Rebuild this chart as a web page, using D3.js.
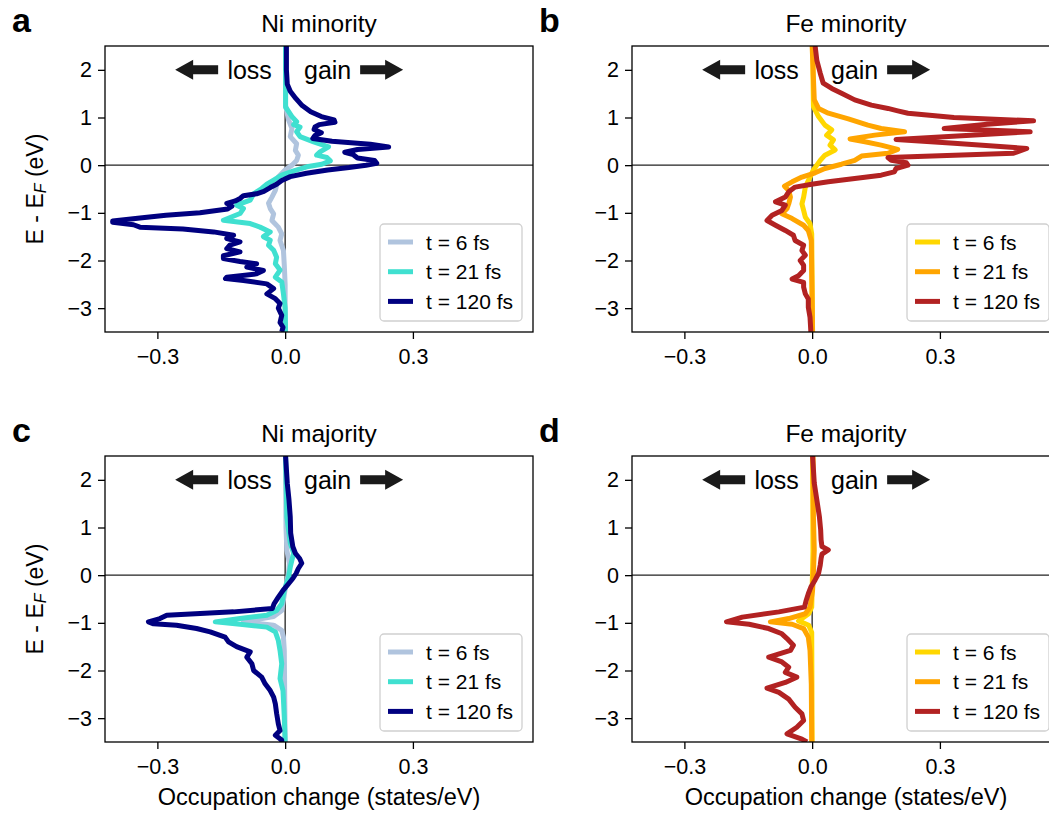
<!DOCTYPE html>
<html>
<head>
<meta charset="utf-8">
<script src="https://cdn.jsdelivr.net/npm/d3@7"></script>
<style>
  body { margin: 0; background: #fff; }
  svg text { font-family: "Liberation Sans", Arial, sans-serif; fill: #000; }
</style>
</head>
<body>
<div id="chart"></div>
<script>
// [energy (eV), occupation change (states/eV)]
const niMin6 = [[2.5,0.001],[1.25,0.001],[0.95,0.008],[0.77,0.016],[0.6,0.012],[0.45,0.027],[0.31,0.024],[0.21,0.031],[0.1,0.027],[0.0,0.016],[-0.1,0.0],[-0.25,-0.016],[-0.42,-0.02],[-0.53,-0.023],[-0.67,-0.031],[-0.8,-0.039],[-0.91,-0.035],[-1.02,-0.027],[-1.16,-0.031],[-1.3,-0.016],[-1.44,-0.008],[-1.58,-0.012],[-1.79,-0.004],[-2.1,-0.002],[-2.5,0.0],[-3.5,0.0]];
const niMin21 = [[2.5,0.001],[1.22,0.001],[1.02,0.016],[0.91,0.027],[0.85,0.02],[0.8,0.035],[0.7,0.027],[0.6,0.035],[0.49,0.067],[0.385,0.102],[0.28,0.082],[0.21,0.074],[0.16,0.098],[0.09,0.106],[0.02,0.086],[-0.035,0.051],[-0.12,0.02],[-0.21,-0.008],[-0.315,-0.027],[-0.4,-0.043],[-0.49,-0.055],[-0.6,-0.074],[-0.735,-0.082],[-0.84,-0.114],[-0.91,-0.098],[-1.015,-0.106],[-1.155,-0.145],[-1.225,-0.082],[-1.3,-0.059],[-1.4,-0.035],[-1.5,-0.051],[-1.575,-0.035],[-1.68,-0.039],[-1.785,-0.027],[-1.93,-0.02],[-2.07,-0.023],[-2.2,-0.012],[-2.35,-0.023],[-2.45,-0.008],[-2.7,-0.004],[-3.0,0.0],[-3.5,0.001]];
const niMin120 = [[2.5,0.003],[2.0,0.003],[1.7,0.005],[1.55,0.012],[1.4,0.025],[1.25,0.04],[1.12,0.06],[1.02,0.085],[0.95,0.115],[0.9,0.117],[0.85,0.08],[0.8,0.07],[0.75,0.068],[0.68,0.085],[0.62,0.07],[0.56,0.065],[0.5,0.11],[0.44,0.2],[0.38,0.243],[0.33,0.17],[0.27,0.14],[0.22,0.16],[0.15,0.17],[0.1,0.21],[0.04,0.215],[0.0,0.19],[-0.05,0.15],[-0.1,0.1],[-0.17,0.05],[-0.24,0.012],[-0.32,-0.008],[-0.4,-0.02],[-0.47,-0.035],[-0.55,-0.05],[-0.6,-0.067],[-0.64,-0.098],[-0.7,-0.106],[-0.75,-0.117],[-0.8,-0.137],[-0.86,-0.125],[-0.92,-0.135],[-1.0,-0.2],[-1.05,-0.28],[-1.1,-0.33],[-1.17,-0.405],[-1.2,-0.405],[-1.25,-0.356],[-1.3,-0.341],[-1.34,-0.24],[-1.4,-0.168],[-1.47,-0.121],[-1.54,-0.137],[-1.61,-0.106],[-1.68,-0.13],[-1.75,-0.137],[-1.82,-0.106],[-1.9,-0.145],[-1.96,-0.145],[-2.02,-0.106],[-2.07,-0.067],[-2.14,-0.09],[-2.21,-0.051],[-2.28,-0.067],[-2.35,-0.137],[-2.38,-0.14],[-2.42,-0.098],[-2.49,-0.043],[-2.59,-0.027],[-2.7,-0.043],[-2.8,-0.023],[-2.9,-0.012],[-3.0,-0.016],[-3.15,-0.008],[-3.3,-0.012],[-3.4,-0.005],[-3.5,-0.008]];

const feMin6 = [[2.5,0.002],[1.9,0.002],[1.23,0.003],[1.02,0.015],[0.84,0.03],[0.74,0.046],[0.63,0.034],[0.53,0.05],[0.42,0.042],[0.32,0.054],[0.21,0.03],[0.1,0.019],[0.0,0.011],[-0.1,0.003],[-0.25,-0.005],[-0.46,-0.016],[-0.67,-0.02],[-0.81,-0.024],[-0.95,-0.02],[-1.09,-0.016],[-1.23,-0.005],[-1.44,-0.001],[-3.5,0.001]];
const feMin21 = [[2.5,0.0],[1.37,0.005],[1.19,0.015],[1.09,0.038],[0.97,0.085],[0.84,0.131],[0.77,0.162],[0.7,0.217],[0.63,0.147],[0.55,0.089],[0.49,0.124],[0.42,0.162],[0.33,0.201],[0.25,0.178],[0.19,0.116],[0.1,0.1],[0.02,0.069],[-0.07,0.03],[-0.16,0.007],[-0.25,-0.024],[-0.35,-0.047],[-0.44,-0.065],[-0.53,-0.055],[-0.67,-0.051],[-0.81,-0.055],[-0.91,-0.059],[-1.02,-0.071],[-1.12,-0.047],[-1.26,-0.02],[-1.37,-0.009],[-1.58,-0.002],[-2.3,-0.001],[-3.5,0.001]];
const feMin120 = [[2.5,0.007],[2.2,0.011],[1.93,0.019],[1.72,0.026],[1.61,0.046],[1.51,0.069],[1.37,0.1],[1.26,0.139],[1.19,0.178],[1.14,0.201],[1.09,0.225],[1.0,0.333],[0.93,0.52],[0.86,0.411],[0.77,0.31],[0.7,0.512],[0.63,0.372],[0.54,0.197],[0.46,0.333],[0.35,0.504],[0.25,0.473],[0.16,0.178],[0.1,0.186],[0.05,0.221],[0.0,0.225],[-0.07,0.197],[-0.14,0.193],[-0.21,0.162],[-0.28,0.1],[-0.35,0.038],[-0.4,-0.001],[-0.46,-0.04],[-0.56,-0.055],[-0.67,-0.063],[-0.77,-0.086],[-0.84,-0.063],[-0.95,-0.071],[-1.05,-0.094],[-1.16,-0.106],[-1.26,-0.086],[-1.37,-0.063],[-1.47,-0.044],[-1.58,-0.04],[-1.68,-0.02],[-1.79,-0.024],[-1.89,-0.016],[-2.0,-0.028],[-2.1,-0.02],[-2.21,-0.02],[-2.32,-0.032],[-2.39,-0.047],[-2.46,-0.02],[-2.56,-0.02],[-2.7,-0.016],[-2.81,-0.009],[-2.98,-0.009],[-3.19,-0.005],[-3.5,-0.003]];

const niMaj6 = [[2.5,0.001],[1.0,0.002],[0.52,0.004],[0.25,0.01],[0.05,0.008],[-0.3,0.0],[-0.74,-0.008],[-0.87,-0.027],[-0.98,-0.098],[-1.05,-0.027],[-1.16,-0.008],[-1.3,-0.004],[-1.58,-0.002],[-3.5,0.0]];
const niMaj21 = [[2.5,0.001],[1.22,0.004],[0.67,0.012],[0.46,0.02],[0.32,0.016],[0.17,0.012],[-0.04,0.008],[-0.32,-0.002],[-0.6,-0.008],[-0.74,-0.02],[-0.84,-0.043],[-0.91,-0.106],[-0.98,-0.164],[-1.03,-0.106],[-1.09,-0.043],[-1.19,-0.023],[-1.37,-0.016],[-1.58,-0.012],[-1.86,-0.008],[-2.17,-0.012],[-2.42,-0.005],[-2.98,-0.002],[-3.5,0.0]];
const niMaj120 = [[2.5,0.001],[1.93,0.005],[1.58,0.009],[1.22,0.012],[0.88,0.013],[0.6,0.018],[0.46,0.024],[0.35,0.034],[0.25,0.039],[0.14,0.031],[0.04,0.026],[-0.07,0.018],[-0.18,0.008],[-0.32,-0.005],[-0.46,-0.016],[-0.6,-0.026],[-0.7,-0.03],[-0.77,-0.121],[-0.84,-0.278],[-0.91,-0.294],[-0.98,-0.321],[-1.02,-0.309],[-1.05,-0.255],[-1.12,-0.208],[-1.19,-0.176],[-1.3,-0.141],[-1.4,-0.133],[-1.5,-0.114],[-1.61,-0.082],[-1.72,-0.09],[-1.86,-0.078],[-2.0,-0.074],[-2.14,-0.055],[-2.28,-0.047],[-2.42,-0.035],[-2.56,-0.027],[-2.7,-0.023],[-2.9,-0.02],[-3.12,-0.016],[-3.26,-0.012],[-3.36,-0.023],[-3.46,-0.008],[-3.5,-0.008]];

const feMaj6 = [[2.5,0.001],[0.5,0.002],[-0.3,0.0],[-0.67,-0.001],[-0.81,-0.008],[-0.96,-0.032],[-1.05,-0.008],[-1.2,-0.001],[-3.5,0.0]];
const feMaj21 = [[2.5,0.002],[1.23,0.003],[0.53,0.005],[0.04,0.003],[-0.32,0.001],[-0.67,-0.005],[-0.81,-0.016],[-0.91,-0.055],[-0.98,-0.098],[-1.03,-0.047],[-1.12,-0.02],[-1.3,-0.009],[-1.58,-0.005],[-2.28,-0.002],[-3.5,-0.001]];
const feMaj120 = [[2.5,0.001],[1.93,0.005],[1.58,0.011],[1.23,0.017],[0.95,0.02],[0.74,0.021],[0.6,0.023],[0.53,0.038],[0.44,0.023],[0.35,0.021],[0.21,0.019],[0.035,0.015],[-0.1,0.007],[-0.25,-0.003],[-0.39,-0.009],[-0.53,-0.014],[-0.67,-0.018],[-0.77,-0.078],[-0.88,-0.164],[-0.98,-0.201],[-1.03,-0.148],[-1.12,-0.102],[-1.23,-0.071],[-1.33,-0.059],[-1.47,-0.044],[-1.58,-0.051],[-1.72,-0.102],[-1.82,-0.071],[-1.93,-0.055],[-2.04,-0.063],[-2.14,-0.036],[-2.25,-0.063],[-2.37,-0.106],[-2.46,-0.078],[-2.6,-0.055],[-2.77,-0.04],[-2.91,-0.024],[-3.05,-0.02],[-3.19,-0.036],[-3.33,-0.059],[-3.44,-0.024],[-3.5,-0.012]];

const timeLabels = ["t = 6 fs", "t = 21 fs", "t = 120 fs"];
const niColors = ["#b0c4de", "#40e0d0", "#000080"];
const feColors = ["#ffd700", "#ffa500", "#b22222"];
const xTicks = [-0.3, 0.0, 0.3];
const yTicks = [-3, -2, -1, 0, 1, 2];

const W = 1049, H = 815;
const svg = d3.select("#chart").append("svg")
    .attr("width", W).attr("height", H);

const panels = [
    { letter: "a", title: "Ni minority", series: [niMin6, niMin21, niMin120], colors: niColors, left: 105, top: 46, yLabel: true, xLabel: false },
    { letter: "b", title: "Fe minority", series: [feMin6, feMin21, feMin120], colors: feColors, left: 632, top: 46, yLabel: false, xLabel: false },
    { letter: "c", title: "Ni majority", series: [niMaj6, niMaj21, niMaj120], colors: niColors, left: 105, top: 456, yLabel: true, xLabel: true },
    { letter: "d", title: "Fe majority", series: [feMaj6, feMaj21, feMaj120], colors: feColors, left: 632, top: 456, yLabel: false, xLabel: true }
];

const pw = 428, ph = 286;

panels.forEach((p, i) => {
    const x = d3.scaleLinear().domain([-0.423, 0.582]).range([0, pw]);
    const y = d3.scaleLinear().domain([-3.5, 2.5]).range([ph, 0]);

    const g = svg.append("g").attr("transform", `translate(${p.left},${p.top})`);

    // clip
    g.append("clipPath").attr("id", "clip" + i)
        .append("rect").attr("width", pw).attr("height", ph);

    // zero lines
    g.append("line").attr("x1", 0).attr("x2", pw).attr("y1", y(0)).attr("y2", y(0))
        .attr("stroke", "#222").attr("stroke-width", 1.3);
    g.append("line").attr("x1", x(0)).attr("x2", x(0)).attr("y1", 0).attr("y2", ph)
        .attr("stroke", "#222").attr("stroke-width", 1.3);

    // curves
    const line = d3.line().x(d => x(d[1])).y(d => y(d[0]));
    const curves = g.append("g").attr("clip-path", `url(#clip${i})`);
    p.series.forEach((s, k) => {
        curves.append("path").datum(s)
            .attr("d", line)
            .attr("fill", "none")
            .attr("stroke", p.colors[k])
            .attr("stroke-width", 5)
            .attr("stroke-linejoin", "round")
            .attr("stroke-linecap", "butt");
    });

    // axes
    const xAxis = g.append("g").attr("transform", `translate(0,${ph})`)
        .call(d3.axisBottom(x).tickValues(xTicks).tickFormat(d3.format(".1f")).tickSize(7).tickPadding(10));
    const yAxis = g.append("g")
        .call(d3.axisLeft(y).tickValues(yTicks).tickFormat(d3.format("d")).tickSize(7).tickPadding(6));
    [xAxis, yAxis].forEach(a => {
        a.select(".domain").remove();
        a.selectAll("line").attr("stroke", "#000").attr("stroke-width", 1.3);
        a.selectAll("text").style("font-size", "21.5px").attr("fill", "#000");
    });

    // frame
    g.append("rect").attr("width", pw).attr("height", ph)
        .attr("fill", "none").attr("stroke", "#000").attr("stroke-width", 1.3);

    // loss / gain annotation
    const ay = y(2.0), x0 = x(0);
    const arrow = (from, to) => {
        const dir = Math.sign(to - from);
        const headLen = 18, headHalf = 10, bodyHalf = 4.5;
        const hb = to - dir * headLen;
        const pts = [[from, ay - bodyHalf], [hb, ay - bodyHalf], [hb, ay - headHalf], [to, ay],
                     [hb, ay + headHalf], [hb, ay + bodyHalf], [from, ay + bodyHalf]];
        g.append("path").attr("d", "M" + pts.join("L") + "Z").attr("fill", "#1a1a1a");
    };
    arrow(x0 - 67, x0 - 110);
    arrow(x0 + 75, x0 + 118);
    g.append("text").attr("x", x0 - 35.5).attr("y", ay + 9).attr("text-anchor", "middle")
        .style("font-size", "25px").text("loss");
    g.append("text").attr("x", x0 + 42.5).attr("y", ay + 9).attr("text-anchor", "middle")
        .style("font-size", "25px").text("gain");

    // legend
    const lg = g.append("g").attr("transform", `translate(${pw - 153},${ph - 108})`);
    lg.append("rect").attr("width", 142).attr("height", 97).attr("rx", 4)
        .attr("fill", "#fff").attr("fill-opacity", 0.8)
        .attr("stroke", "#d0d0d0").attr("stroke-width", 1.3);
    timeLabels.forEach((t, k) => {
        const ry = 18 + k * 29.7;
        lg.append("line").attr("x1", 8).attr("x2", 33).attr("y1", ry).attr("y2", ry)
            .attr("stroke", p.colors[k]).attr("stroke-width", 5);
        lg.append("text").attr("x", 46).attr("y", ry + 7.5)
            .style("font-size", "21px").text(t);
    });

    // title and panel letter
    g.append("text").attr("x", pw / 2).attr("y", -14).attr("text-anchor", "middle")
        .style("font-size", "24.5px").text(p.title);
    svg.append("text").attr("x", p.left - 93).attr("y", p.top - 14)
        .style("font-size", "34px").style("font-weight", "bold").text(p.letter);

    if (p.yLabel) {
        const t = g.append("text")
            .attr("transform", `translate(-62,${ph / 2}) rotate(-90)`)
            .attr("text-anchor", "middle")
            .style("font-size", "23px");
        t.append("tspan").text("E - E");
        t.append("tspan").attr("baseline-shift", "-20%").style("font-size", "16px")
            .style("font-style", "italic").text("F");
        t.append("tspan").text(" (eV)");
    }
    if (p.xLabel) {
        g.append("text").attr("x", pw / 2).attr("y", ph + 63).attr("text-anchor", "middle")
            .style("font-size", "23.5px").text("Occupation change (states/eV)");
    }
});
</script>
</body>
</html>
